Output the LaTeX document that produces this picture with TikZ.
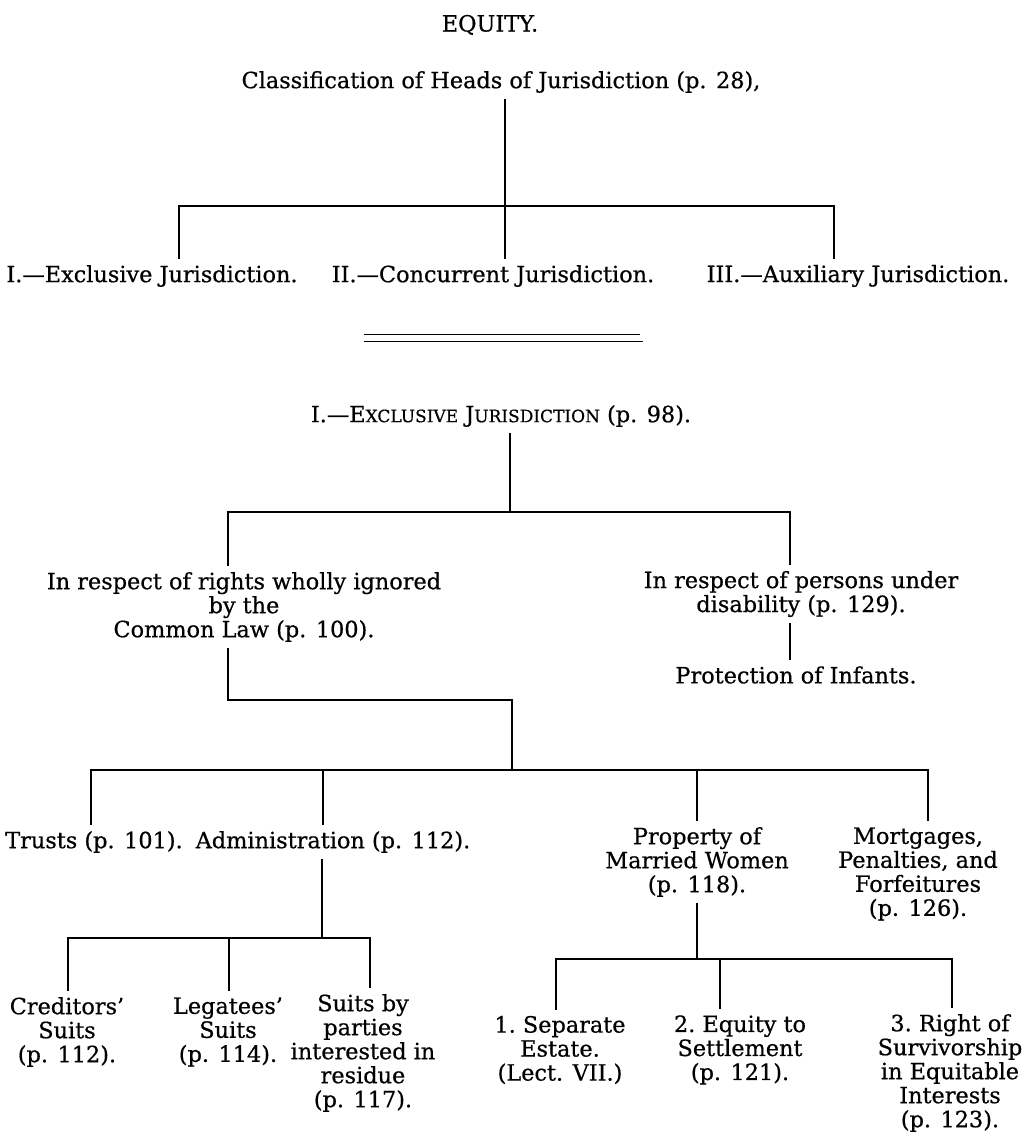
\documentclass[tikz,border=0pt]{standalone}
\usepackage{fontspec}
\setmainfont{DejaVu Serif}[FakeBold=0.6]
\newcommand\fakesc[1]{{\fontsize{8.5}{10}\selectfont #1}}
\begin{document}
\begin{tikzpicture}[x=0.5pt,y=-0.5pt,
  every node/.style={inner sep=3pt,font=\fontsize{11.2}{12}\selectfont},
  lbl/.style={align=center},
  conn/.style={line width=0.75pt}]
\useasboundingbox (0,0) rectangle (1024,1133);
\fill[white] (0,0) rectangle (1024,1133);
%\draw[help lines,step=50] (0,0) grid (1024,1133);
% heads of jurisdiction
\node (eq) at (490,25) {EQUITY.};
\node (cls) at (501,82) {Classification of Heads of Jurisdiction (p. 28),};
\node (ex) [anchor=east] at (304,276) {I.—Exclusive Jurisdiction.};
\node (co) at (493,276) {II.—Concurrent Jurisdiction.};
\node (ax) at (858,276) {III.—Auxiliary Jurisdiction.};
\coordinate (barA) at (505,206);
\coordinate (barA1) at (179,206);
\coordinate (barA2) at (834,206);
\draw[conn] (barA |- cls.south) -- (barA |- co.north);
\draw[conn] (barA1 |- ex.north) |- (barA2) -- (barA2 |- ax.north);
\draw[line width=0.4pt] (364,334) -- (640,334);
\draw[line width=0.4pt] (364,341) -- (643,341);
% exclusive jurisdiction
\node (exh) at (501,416) {I.—E\fakesc{XCLUSIVE} J\fakesc{URISDICTION} (p. 98).};
\node (rw) [lbl] at (244,607) {In respect of rights wholly ignored\\by the\\Common Law (p. 100).};
\node (pd) [lbl] at (801,594) {In respect of persons under\\disability (p. 129).};
\node (inf) at (796,675) {Protection of Infants.};
\coordinate (barB) at (510,512);
\coordinate (barB1) at (228,512);
\coordinate (barB2) at (790,512);
\draw[conn] (barB |- exh.south) -- (barB);
\draw[conn] (barB1 |- rw.north) |- (barB2) -- (barB2 |- pd.north);
\draw[conn] (barB2 |- pd.south) -- (barB2 |- inf.north);
\coordinate (barC) at (512,700);
\coordinate (barD) at (512,770);
\draw[conn] (barB1 |- rw.south) |- (barC) -- (barD);
% rights ignored by the common law
\node (tr) at (94,842) {Trusts (p. 101).};
\node (ad) at (333,842) {Administration (p. 112).};
\node (pm) [lbl] at (697,862) {Property of\\Married Women\\(p. 118).};
\node (mo) [lbl] at (918,874) {Mortgages,\\Penalties, and\\Forfeitures\\(p. 126).};
\coordinate (barD1) at (91,770);
\coordinate (barD2) at (928,770);
\coordinate (barDa) at (323,770);
\coordinate (barDp) at (697,770);
\draw[conn] (barD1 |- tr.north) |- (barD2) -- (barD2 |- mo.north);
\draw[conn] (barDa) -- (barDa |- ad.north);
\draw[conn] (barDp) -- (barDp |- pm.north);
% administration
\node (cr) [lbl] at (67,1032) {Creditors'\\Suits\\(p. 112).};
\node (lg) [lbl] at (228,1032) {Legatees'\\Suits\\(p. 114).};
\node (su) [lbl] at (363,1053) {Suits by\\parties\\interested in\\residue\\(p. 117).};
\coordinate (barE) at (322,938);
\coordinate (barE1) at (68,938);
\coordinate (barE2) at (370,938);
\coordinate (barEl) at (229,938);
\draw[conn] (barE |- ad.south) -- (barE);
\draw[conn] (barE1 |- cr.north) |- (barE2) -- (barE2 |- su.north);
\draw[conn] (barEl) -- (barEl |- lg.north);
% married women
\node (se) [lbl] at (560,1050) {1.\ Separate\\Estate.\\(Lect. VII.)};
\node (es) [lbl] at (740,1050) {2.\ Equity to\\Settlement\\(p. 121).};
\node (rs) [lbl] at (950,1073) {3.\ Right of\\Survivorship\\in Equitable\\Interests\\(p. 123).};
\coordinate (barF) at (697,959);
\coordinate (barF1) at (556,959);
\coordinate (barF2) at (952,959);
\coordinate (barFe) at (720,959);
\draw[conn] (barF |- pm.south) -- (barF);
\draw[conn] (barF1 |- se.north) |- (barF2) -- (barF2 |- rs.north);
\draw[conn] (barFe) -- (barFe |- es.north);
\end{tikzpicture}
\end{document}
